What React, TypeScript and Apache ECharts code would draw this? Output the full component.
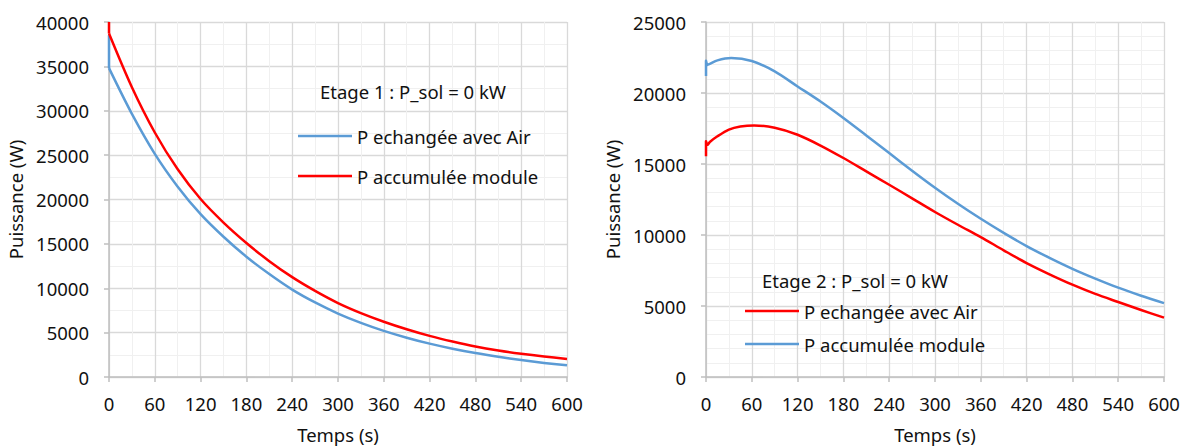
import React, { useEffect, useRef } from "react";
import * as echarts from "echarts";

// ---- Data ----
const timeL = [0, 0, 30, 60, 90, 120, 150, 180, 210, 240, 270, 300, 330, 360, 390, 420, 450, 480, 510, 540, 570, 600];
const blueL = [38500, 34800, 29650, 25150, 21450, 18350, 15800, 13550, 11600, 9850, 8400, 7150, 6100, 5200, 4430, 3760, 3190, 2700, 2280, 1910, 1590, 1320];
const redL = [40000, 38700, 32650, 27550, 23400, 20050, 17400, 15100, 13050, 11250, 9700, 8330, 7200, 6230, 5380, 4630, 3990, 3430, 2980, 2610, 2300, 2040];

const timeBlueR = [0, 0, 2, 5, 15, 33, 60, 90, 120, 150, 180, 210, 240, 270, 300, 330, 360, 390, 420, 450, 480, 510, 540, 570, 600];
const blueR = [21200, 22270, 21980, 22050, 22300, 22460, 22250, 21520, 20460, 19400, 18240, 17010, 15770, 14530, 13330, 12200, 11140, 10150, 9220, 8390, 7620, 6930, 6290, 5720, 5200];
const timeRedR = [0, 0, 2, 5, 15, 30, 45, 63, 90, 120, 150, 180, 210, 240, 270, 300, 330, 360, 390, 420, 450, 480, 510, 540, 570, 600];
const redR = [15550, 16600, 16350, 16550, 16950, 17420, 17640, 17720, 17550, 17060, 16300, 15420, 14480, 13540, 12580, 11620, 10720, 9850, 8920, 8020, 7230, 6500, 5850, 5280, 4720, 4180];

const xTicks = { min: 0, max: 600, interval: 60 };
const yLeft = { min: 0, max: 40000, interval: 5000 };
const yRight = { min: 0, max: 25000, interval: 5000 };

const titleL = "Etage 1 : P_sol = 0 kW";
const titleR = "Etage 2 : P_sol = 0 kW";
const nameEch = "P echangée avec Air";
const nameAcc = "P accumulée module";
const xName = "Temps (s)";
const yName = "Puissance (W)";

const BLUE = "#5b9bd5";
const RED = "#ff0000";
const FONT = "Noto Sans";
const FS = 18.5;

const pairs = (t: number[], v: number[]) => t.map((x, i) => [x, v[i]]);

export default function App() {
  const ref = useRef<HTMLDivElement>(null);
  useEffect(() => {
    if (!ref.current) return;
    const chart = echarts.init(ref.current, undefined, { renderer: "svg" });
    const axisLine = { show: true, lineStyle: { color: "#bfbfbf", width: 1.5 } };
    const axisTick = { show: true, length: 5, lineStyle: { color: "#bfbfbf", width: 1.5 } };
    const splitLine = { show: true, lineStyle: { color: "#d9d9d9", width: 1.3 } };
    const minorSplit = { show: true, lineStyle: { color: "#f0f0f0", width: 1 } };
    const label = { color: "#111", fontSize: FS, fontFamily: FONT, formatter: (v: number) => String(v) };

    const mkX = (gridIndex: number) => ({
      type: "value",
      gridIndex,
      min: xTicks.min,
      max: xTicks.max,
      interval: xTicks.interval,
      name: xName,
      nameLocation: "middle",
      nameGap: 48,
      nameTextStyle: { color: "#111", fontSize: FS, fontFamily: FONT },
      axisLine,
      axisTick,
      axisLabel: { ...label, margin: 17 },
      splitLine,
      minorTick: { show: false, splitNumber: 2 },
      minorSplitLine: minorSplit,
    });
    const mkY = (gridIndex: number, cfg: any, minorN: number) => ({
      type: "value",
      gridIndex,
      min: cfg.min,
      max: cfg.max,
      interval: cfg.interval,
      name: yName,
      nameLocation: "middle",
      nameGap: 84,
      nameTextStyle: { color: "#111", fontSize: FS, fontFamily: FONT },
      axisLine,
      axisTick,
      axisLabel: { ...label, margin: 20 },
      splitLine,
      minorTick: { show: false, splitNumber: minorN },
      minorSplitLine: minorSplit,
    });
    const lineSeries = (name: string, color: string, data: number[][], idx: number, smooth: number | boolean) => ({
      type: "line",
      name,
      xAxisIndex: idx,
      yAxisIndex: idx,
      data,
      showSymbol: false,
      symbol: "none",
      smooth,
      lineStyle: { color, width: 2.5, join: "round" },
      itemStyle: { color },
      z: 3,
    });
    const legendItem = (x: number, y: number, color: string, text: string) => [
      { type: "line", shape: { x1: x, y1: y, x2: x + 54, y2: y }, style: { stroke: color, lineWidth: 2.5 }, z: 10 },
      {
        type: "text",
        x: x + 59,
        y,
        style: { text, fill: "#111", fontSize: FS, fontFamily: FONT, textVerticalAlign: "middle" },
        z: 10,
      },
    ];

    const bl = pairs(timeL, blueL);
    const rl = pairs(timeL, redL);

    chart.setOption({
      animation: false,
      textStyle: { fontFamily: FONT },
      grid: [
        { left: 109, top: 22, width: 458, height: 355, containLabel: false, outerBoundsMode: "none" },
        { left: 706, top: 22, width: 458, height: 355, containLabel: false, outerBoundsMode: "none" },
      ],
      xAxis: [mkX(0), mkX(1)],
      yAxis: [mkY(0, yLeft, 2), mkY(1, yRight, 5)],
      series: [
        // initial drop at t = 0, then the smooth decay
        lineSeries(nameEch, BLUE, bl.slice(0, 2), 0, false),
        lineSeries(nameEch, BLUE, bl.slice(1), 0, 0.3),
        lineSeries(nameAcc, RED, rl.slice(0, 2), 0, false),
        lineSeries(nameAcc, RED, rl.slice(1), 0, 0.3),
        lineSeries(nameEch, RED, pairs(timeRedR, redR), 1, 0.3),
        lineSeries(nameAcc, BLUE, pairs(timeBlueR, blueR), 1, 0.3),
      ],
      graphic: [
        {
          type: "text",
          x: 320,
          y: 91,
          style: { text: titleL, fill: "#111", fontSize: FS, fontFamily: FONT, textVerticalAlign: "middle" },
          z: 10,
        },
        ...legendItem(298, 136, BLUE, nameEch),
        ...legendItem(298, 176, RED, nameAcc),
        {
          type: "text",
          x: 762,
          y: 280,
          style: { text: titleR, fill: "#111", fontSize: FS, fontFamily: FONT, textVerticalAlign: "middle" },
          z: 10,
        },
        ...legendItem(745, 311, RED, nameEch),
        ...legendItem(745, 344, BLUE, nameAcc),
      ],
    });
    return () => chart.dispose();
  }, []);
  return (
    <div
      ref={ref}
      style={{ position: "absolute", left: 0, top: 0, width: 1182, height: 446, background: "#fff" }}
    />
  );
}
